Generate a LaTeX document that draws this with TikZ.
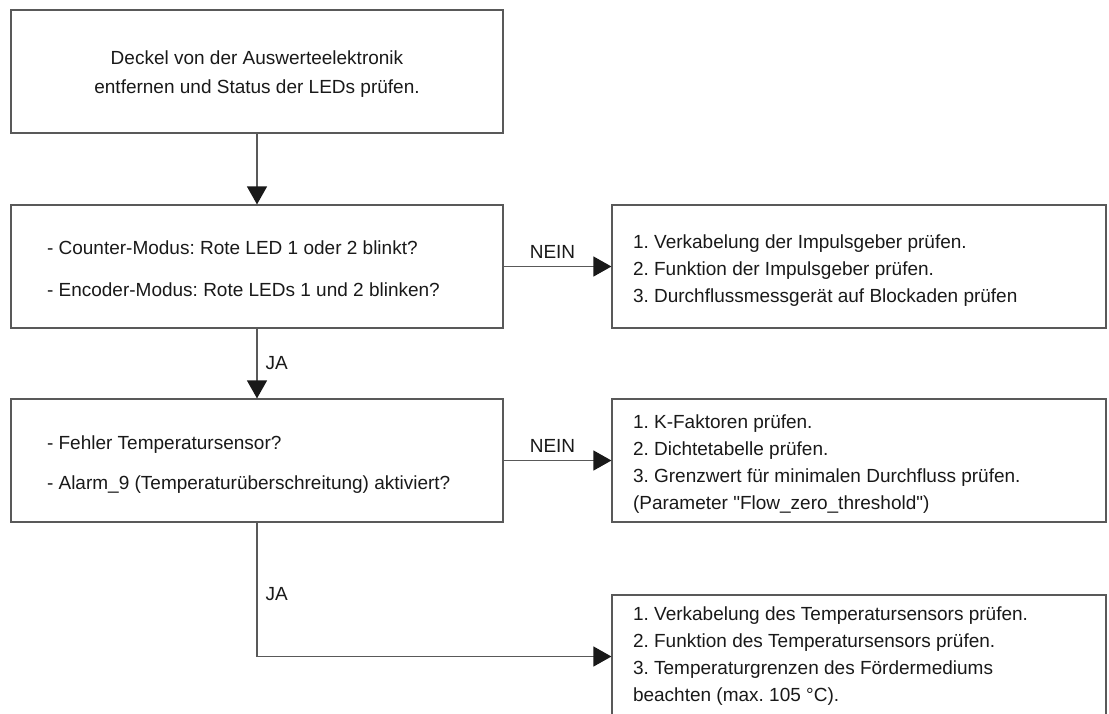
\documentclass[tikz,border=0pt]{standalone}
\usepackage{fontspec}
\setmainfont{Liberation Sans}[Ligatures=TeXOff]
\usetikzlibrary{arrows.meta}
\newcommand{\fsz}{\fontsize{19pt}{23pt}\selectfont\frenchspacing}
\newcommand{\tb}[3]{\parbox{#1}{\vspace*{#2}#3}}
\begin{document}
\begin{tikzpicture}[x=1pt,y=-1pt,
  box/.style={draw=black!65, line width=1.2pt, minimum width=492pt, minimum height=123pt, inner sep=0pt, font=\fsz, text=black!90},
  rbox/.style={box, minimum width=494pt},
  conn/.style={draw=black!65, line width=1.2pt, -{Triangle[length=18pt,width=20pt,black!90]}},
  lbl/.style={font=\fsz, inner sep=0pt, text=black!90}]
\useasboundingbox (0,0) rectangle (1109,713);
\node[box] (b1) at (257,71.5) {\tb{492pt}{6pt}{\centering Deckel von der Auswerteelektronik\\[6pt]entfernen und Status der LEDs prüfen.}};
\node[box] (b2) at (257,266.5) {\tb{420pt}{4pt}{\raggedright - Counter-Modus: Rote LED 1 oder 2 blinkt?\\[19pt]- Encoder-Modus: Rote LEDs 1 und 2 blinken?}};
\node[box] (b3) at (257,460.5) {\tb{420pt}{8pt}{\raggedright - Fehler Temperatursensor?\\[17pt]- Alarm\_9 (Temperaturüberschreitung) aktiviert?}};
\node[rbox] (r1) at (859,266.5) {\tb{452pt}{8pt}{\raggedright 1. Verkabelung der Impulsgeber prüfen.\\[4pt]2. Funktion der Impulsgeber prüfen.\\[4pt]3. Durchflussmessgerät auf Blockaden prüfen}};
\node[rbox] (r2) at (859,460.5) {\tb{452pt}{8pt}{\raggedright 1. K-Faktoren prüfen.\\[4pt]2. Dichtetabelle prüfen.\\[4pt]3. Grenzwert für minimalen Durchfluss prüfen.\\[4pt](Parameter "Flow\_zero\_threshold")}};
\node[rbox] (r3) at (859,656.5) {\tb{452pt}{0pt}{\raggedright 1. Verkabelung des Temperatursensors prüfen.\\[4pt]2. Funktion des Temperatursensors prüfen.\\[4pt]3. Temperaturgrenzen des Fördermediums\\[4pt]beachten (max. 105 °C).}};
\draw[conn] (b1.south) -- (b2.north);
\draw[conn] (b2.east) -- node[lbl, above=7pt, xshift=-5pt] {NEIN} (r1.west);
\draw[conn] (b2.south) -- node[lbl, right=8pt] {JA} (b3.north);
\draw[conn] (b3.east) -- node[lbl, above=7pt, xshift=-5pt] {NEIN} (r2.west);
\draw[conn] (b3.south) |- node[lbl, pos=0.265, right=8pt] {JA} (r3.west);
\end{tikzpicture}
\end{document}
